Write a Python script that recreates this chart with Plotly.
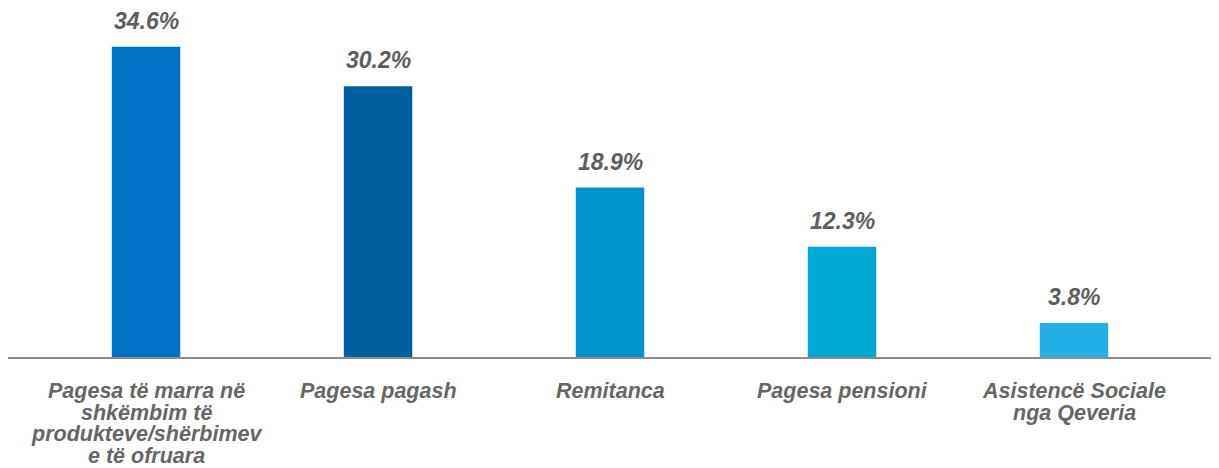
import plotly.graph_objects as go

categories = [
    "Pagesa të marra në<br>shkëmbim të<br>produkteve/shërbimev<br>e të ofruara",
    "Pagesa pagash",
    "Remitanca",
    "Pagesa pensioni",
    "Asistencë Sociale<br>nga Qeveria",
]
values = [34.6, 30.2, 18.9, 12.3, 3.8]
value_labels = ["34.6%", "30.2%", "18.9%", "12.3%", "3.8%"]
colors = ["#0072C6", "#005F9E", "#0093CA", "#00A8D2", "#22B0E6"]

FONT = "Liberation Sans, Arial, sans-serif"

fig = go.Figure()
fig.add_trace(go.Bar(
    x=list(range(len(categories))),
    y=values,
    marker=dict(color=colors, line=dict(width=0)),
    width=0.295,
    hoverinfo="skip",
))

annotations = []
for i, (v, lab) in enumerate(zip(values, value_labels)):
    annotations.append(dict(
        x=i, y=v, xref="x", yref="y", text="<b><i>" + lab + "</i></b>",
        showarrow=False, yanchor="middle", xanchor="center", yshift=26,
        font=dict(family=FONT, size=23, color="#5E5E5E"),
    ))
for i, cat in enumerate(categories):
    for j, line in enumerate(cat.split("<br>")):
        annotations.append(dict(
            x=i, y=0, xref="x", yref="y", text="<b><i>" + line + "</i></b>",
            showarrow=False, yanchor="middle", xanchor="center",
            yshift=-34 - 21.5 * j,
            font=dict(family=FONT, size=21.5, color="#666666"),
        ))

fig.update_layout(
    width=1211, height=460,
    margin=dict(l=0, r=0, t=2, b=111),
    paper_bgcolor="white", plot_bgcolor="white",
    showlegend=False,
    annotations=annotations,
    xaxis=dict(range=[-0.595, 4.625], showticklabels=False, showgrid=False,
               zeroline=False, showline=True, linecolor="#8C8C8C", linewidth=2,
               ticks=""),
    yaxis=dict(range=[0, 38.7], visible=False, showgrid=False, zeroline=False),
)

fig.write_html("out.html")
